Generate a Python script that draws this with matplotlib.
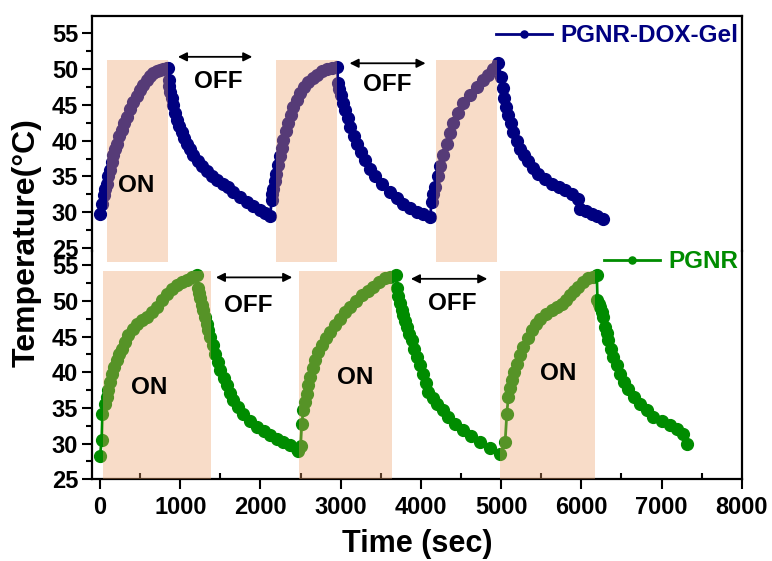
import matplotlib
matplotlib.use('Agg')
import matplotlib.pyplot as plt
import matplotlib.ticker as ticker
from matplotlib.patches import Rectangle

plt.rcParams['font.family'] = ['Liberation Sans', 'DejaVu Sans']
plt.rcParams['font.weight'] = 'bold'

#------------------------------------------------------------------------------
# DATA

# PGNR-DOX-Gel (top panel)
gel_time = [0, 25, 50, 66, 83, 104, 125, 145, 166, 187, 208, 240, 270, 300, 333, 375, 416,
            458, 499, 540, 582, 623, 665, 706, 748, 790, 831, 850,
            855, 864, 873, 893, 914, 939, 964, 990, 1018, 1050, 1081, 1122, 1164, 1216,
            1268, 1330, 1392, 1460, 1538, 1600, 1663, 1745, 1829, 1910, 1995, 2060, 2120,
            2140, 2150, 2161, 2178, 2195, 2220, 2244, 2265, 2286, 2317, 2348, 2380, 2410,
            2450, 2494, 2545, 2597, 2650, 2701, 2765, 2826, 2890, 2959,
            2965, 2983, 3001, 3028, 3055, 3086, 3117, 3160, 3201, 3250, 3304, 3370, 3429,
            3520, 3616, 3700, 3782, 3860, 3949, 4030, 4115,
            4135, 4156, 4177, 4208, 4239, 4280, 4323, 4365, 4406, 4468, 4530, 4614, 4697,
            4770, 4842, 4905, 4967,
            5000, 5020, 5042, 5066, 5091, 5122, 5154, 5195, 5237, 5290, 5341, 5400, 5465,
            5550, 5632, 5720, 5798, 5880, 5964, 5985, 6060, 6131, 6200, 6276]
gel_temp = [29.8, 31.2, 32.4, 33.2, 34.0, 35.0, 35.9, 37.0, 38.0, 38.8, 39.6, 40.6, 41.5, 42.4, 43.3, 44.4, 45.4,
            46.3, 47.1, 47.8, 48.5, 49.0, 49.4, 49.7, 49.9, 50.0, 50.1, 50.1,
            48.5, 47.6, 46.8, 45.9, 45.0, 43.9, 42.9, 42.0, 41.2, 40.4, 39.6, 38.8, 38.0, 37.2,
            36.4, 35.7, 35.0, 34.5, 34.0, 33.5, 32.9, 32.2, 31.5, 30.9, 30.3, 29.9, 29.5,
            31.7, 32.5, 33.3, 34.3, 35.4, 36.6, 37.8, 39.0, 40.1, 41.3, 42.4, 43.6, 44.7,
            45.7, 46.6, 47.5, 48.2, 48.8, 49.2, 49.7, 50.0, 50.2, 50.3,
            48.0, 47.2, 46.4, 45.3, 44.3, 43.1, 41.9, 40.7, 39.6, 38.4, 37.3, 36.1, 35.0,
            33.9, 32.9, 32.0, 31.2, 30.6, 30.1, 29.7, 29.4,
            31.5, 32.6, 33.6, 35.0, 36.4, 38.0, 39.6, 41.0, 42.4, 43.8, 45.2, 46.4, 47.5,
            48.4, 49.2, 50.0, 50.8,
            48.9, 47.4, 45.9, 44.7, 43.6, 42.4, 41.2, 40.0, 38.9, 38.0, 37.1, 36.2, 35.4,
            34.7, 34.0, 33.6, 33.1, 32.5, 31.9, 30.5, 30.2, 29.8, 29.5, 29.1]

# PGNR (bottom panel)
pgnr_time = [0, 20, 30, 62, 83, 104, 125, 146, 177, 208, 240, 270, 310, 353, 405, 457, 520,
             582, 645, 707, 770, 831, 895, 956, 1020, 1081, 1145, 1206,
             1215, 1231, 1247, 1268, 1288, 1310, 1330, 1350, 1372, 1403, 1434, 1465, 1496,
             1540, 1580, 1620, 1663, 1720, 1787, 1870, 1954, 2040, 2120, 2200, 2286, 2370,
             2452, 2473,
             2500, 2515, 2535, 2556, 2577, 2598, 2618, 2650, 2681, 2722, 2764, 2816, 2868,
             2930, 2993, 3055, 3117, 3190, 3263, 3335, 3408, 3480, 3554, 3620, 3691,
             3699, 3720, 3741, 3762, 3782, 3803, 3824, 3855, 3886, 3918, 3949, 3990, 4032,
             4063, 4094, 4150, 4198, 4270, 4343, 4430, 4530, 4630, 4738, 4860, 4988,
             5050, 5071, 5091, 5112, 5133, 5165, 5196, 5237, 5278, 5330, 5382, 5435, 5486,
             5560, 5632, 5700, 5757, 5810, 5860, 5910, 5964, 6025, 6089, 6140, 6193,
             6201, 6218, 6234, 6255, 6276, 6297, 6318, 6338, 6370, 6400, 6440, 6484, 6535,
             6588, 6660, 6733, 6815, 6899, 7000, 7107, 7190, 7273, 7315]
pgnr_temp = [28.3, 30.5, 34.2, 35.6, 36.6, 37.5, 38.7, 39.8, 40.8, 41.7, 42.5, 43.3, 44.3, 45.2, 46.0, 46.8, 47.3,
             47.8, 48.5, 49.2, 50.1, 51.0, 51.7, 52.2, 52.6, 52.9, 53.3, 53.6,
             51.8, 51.1, 50.4, 49.5, 48.7, 47.7, 46.8, 45.9, 45.0, 43.8, 42.6, 41.4, 40.3,
             39.2, 38.2, 37.1, 36.1, 35.1, 34.2, 33.2, 32.4, 31.8, 31.2, 30.7, 30.3, 29.8,
             29.3, 28.9,
             29.6, 32.8, 34.7, 35.9, 37.0, 38.2, 39.4, 40.6, 41.7, 42.8, 43.8, 44.8, 45.7,
             46.6, 47.5, 48.4, 49.2, 50.0, 50.8, 51.4, 52.0, 52.6, 53.2, 53.4, 53.6,
             51.8, 50.7, 49.7, 48.8, 48.0, 47.2, 46.4, 45.4, 44.5, 43.3, 42.2, 41.0, 39.8,
             38.5, 37.3, 36.4, 35.6, 34.7, 33.8, 32.8, 31.9, 31.1, 30.3, 29.4, 28.6,
             30.2, 34.2, 36.6, 37.8, 38.9, 40.1, 41.2, 42.4, 43.6, 44.8, 45.9, 46.7, 47.5,
             48.2, 48.7, 49.1, 49.6, 50.2, 50.8, 51.4, 52.0, 52.6, 53.2, 53.4, 53.6,
             50.1, 49.6, 49.2, 48.5, 47.8, 46.4, 45.5, 44.5, 43.3, 42.2, 41.0, 39.8, 38.7,
             37.7, 36.6, 35.6, 34.7, 33.8, 33.2, 32.6, 32.0, 31.4, 30.0]

# NIR laser ON windows (start, end) in sec
gel_on = [(84, 852), (2195, 2959), (4186, 4947)]
pgnr_on = [(41, 1384), (2481, 3645), (4988, 6172)]

#------------------------------------------------------------------------------
# FIGURE

fig = plt.figure(figsize=(7.72, 5.61), dpi=100)
ax1 = fig.add_axes([0.1192, 0.5526, 0.8416, 0.4189])   # top: PGNR-DOX-Gel
ax2 = fig.add_axes([0.1192, 0.1456, 0.8416, 0.4070])   # bottom: PGNR
for ax in (ax1, ax2):
    ax.set_facecolor('none')

navy = '#000080'
green = '#008c00'
shade = '#eca16a'

ax1.plot(gel_time, gel_temp, '-o', color=navy, ms=8.5, lw=2, label='PGNR-DOX-Gel', zorder=2)
ax2.plot(pgnr_time, pgnr_temp, '-o', color=green, ms=8.5, lw=2, label='PGNR', zorder=2)

# shaded ON boxes (drawn on top of the data, semi transparent)
for t0, t1 in gel_on:
    ax1.add_patch(Rectangle((t0, 23.0), t1 - t0, 28.2, facecolor=shade, alpha=0.37,
                            edgecolor='none', zorder=3, clip_on=False))
for t0, t1 in pgnr_on:
    ax2.add_patch(Rectangle((t0, 25.0), t1 - t0, 29.2, facecolor=shade, alpha=0.37,
                            edgecolor='none', zorder=3, clip_on=False))

# OFF arrows and labels
arrow = dict(arrowstyle='<|-|>', color='black', lw=1.3, mutation_scale=13)
ax1.annotate('', xy=(936, 51.7), xytext=(1933, 51.7), arrowprops=arrow)
ax1.annotate('', xy=(3076, 50.8), xytext=(4093, 50.8), arrowprops=arrow)
ax2.annotate('', xy=(1409, 53.3), xytext=(2431, 53.3), arrowprops=arrow)
ax2.annotate('', xy=(3840, 53.1), xytext=(4863, 53.1), arrowprops=arrow)

txt = dict(fontsize=17.5, fontweight='bold', ha='center', va='center', zorder=5)
ax1.text(1471, 48.2, 'OFF', **txt)
ax1.text(3578, 47.8, 'OFF', **txt)
ax1.text(449, 33.8, 'ON', **txt)
ax2.text(1845, 49.4, 'OFF', **txt)
ax2.text(4389, 49.7, 'OFF', **txt)
ax2.text(611, 37.9, 'ON', **txt)
ax2.text(3180, 39.2, 'ON', **txt)
ax2.text(5711, 39.9, 'ON', **txt)

# axes limits and ticks
ax1.set_xlim(-100, 8000)
ax2.set_xlim(-100, 8000)
ax1.set_ylim(24.6, 57.4)
ax2.set_ylim(25, 57.0)

for ax in (ax1, ax2):
    ax.yaxis.set_minor_locator(ticker.MultipleLocator(2.5))
    ax.set_yticks([25, 30, 35, 40, 45, 50, 55])
    ax.tick_params(axis='y', which='major', direction='out', length=7, width=1.5, labelsize=17, pad=3)
    ax.tick_params(axis='y', which='minor', direction='out', length=4, width=1.5)
    for sp in ax.spines.values():
        sp.set_linewidth(1.6)

ax1.spines['bottom'].set_visible(False)
ax2.spines['top'].set_visible(False)
ax1.tick_params(axis='x', which='both', bottom=False, labelbottom=False)

ax2.xaxis.set_major_locator(ticker.MultipleLocator(1000))
ax2.xaxis.set_minor_locator(ticker.MultipleLocator(500))
ax2.tick_params(axis='x', which='major', direction='out', length=7, width=1.5, labelsize=17, pad=5)
ax2.tick_params(axis='x', which='minor', direction='in', length=4, width=1.5)

ax2.set_xlabel('Time (sec)', fontsize=22, fontweight='bold', labelpad=7)
fig.text(0.035, 0.568, 'Temperature(\u00b0C)', rotation=90, fontsize=23, fontweight='bold',
         ha='center', va='center')

# legends
leg = dict(loc='center right', frameon=False, borderaxespad=0, borderpad=0,
           handlelength=2.3, handletextpad=0.35, markerscale=0.6,
           labelcolor='linecolor', prop={'size': 17.5, 'weight': 'bold'})
ax1.legend(bbox_to_anchor=(0.995, 0.915), **leg)
ax2.legend(bbox_to_anchor=(0.995, 0.952), **leg)

plt.savefig('out.png', dpi=100)
